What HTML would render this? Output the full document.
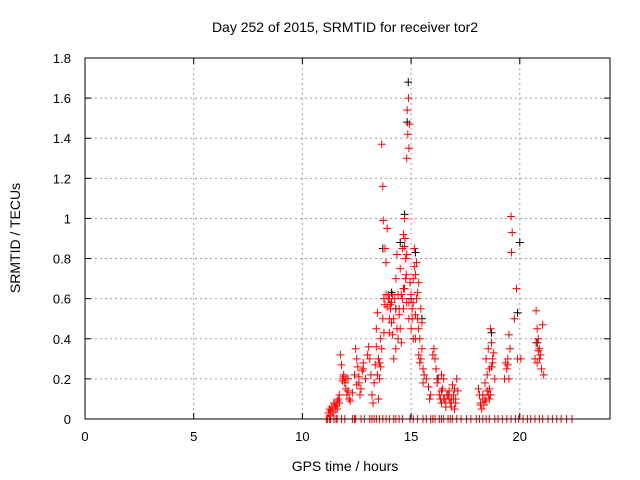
<!DOCTYPE html>
<html><head><meta charset="utf-8"><style>
html,body{margin:0;padding:0;background:#fff;}
svg{display:block;font-family:"Liberation Sans",sans-serif;}
</style></head><body>
<svg id="chart" width="640" height="480" viewBox="0 0 640 480">
<text x="345" y="32" font-size="14" text-anchor="middle">Day 252 of 2015, SRMTID for receiver tor2</text>
<text x="345" y="471" font-size="14" text-anchor="middle">GPS time / hours</text>
<text x="20" y="238" font-size="14" text-anchor="middle" transform="rotate(-90 20 238)">SRMTID / TECUs</text>
<g id="grid"></g><g id="axes"></g><g id="marks"></g>
<rect x="85" y="58" width="525" height="361" fill="none" stroke="#000" stroke-width="1"/>
</svg>
<script>
const xTicks=[0,5,10,15,20];
const yTicks=[0,0.2,0.4,0.6,0.8,1,1.2,1.4,1.6,1.8];
const yTickLabels=["0","0.2","0.4","0.6","0.8","1","1.2","1.4","1.6","1.8"];
const redT=[11.2,11.25,11.3,11.35,11.4,11.45,11.5,11.55,11.6,11.65,11.7,11.75,11.8,11.85,11.9,11.95,12.0,12.05,12.1,12.15,12.2,12.3,12.4,12.45,12.5,12.55,12.6,12.65,12.7,12.75,12.8,12.9,13.0,13.05,13.1,13.15,13.2,13.25,13.3,13.35,13.4,13.45,13.5,13.55,13.6,13.65,13.7,13.72,13.75,13.8,13.85,13.9,13.95,14.0,14.05,14.1,14.15,14.2,14.25,14.3,14.35,14.4,14.45,14.5,14.55,14.6,14.65,14.7,14.72,14.75,14.78,14.8,14.82,14.85,14.88,14.9,14.92,14.95,15.0,15.05,15.1,15.15,15.2,15.25,15.3,15.35,15.4,15.45,15.5,15.55,15.6,15.7,15.8,15.85,15.9,16.0,16.05,16.1,16.15,16.2,16.3,16.35,16.4,16.45,16.5,16.55,16.6,16.7,16.75,16.8,16.85,16.9,16.95,17.0,17.05,17.1,17.15,18.1,18.15,18.2,18.25,18.3,18.35,18.4,18.45,18.5,18.55,18.6,18.65,18.7,18.75,18.8,18.85,19.3,19.35,19.4,19.45,19.5,19.55,19.6,19.62,19.65,19.75,19.85,19.9,20.05,20.7,20.75,20.8,20.85,20.9,20.95,21.0,21.05,21.1,20.8,13.8,14.0,14.3,15.25,15.35,14.5,14.15,13.5,16.4,17.0,18.6,14.6,14.65,14.7,14.8,14.9,15.0,15.1,15.2,15.3,14.4,14.1,13.9,14.0,14.8,14.7,15.1,15.15,15.45,15.5,
11.3,11.4,11.5,11.6,11.7,11.85,11.9,12.0,12.1,12.5,12.6,12.8,13.4,13.45,13.55,13.6,13.65,13.7,13.75,13.85,13.95,14.05,14.2,14.35,14.45,14.55,14.65,14.75,14.9,15.05,15.2,15.35,15.4,15.55,16.25,16.4,16.5,16.6,16.65,16.75,16.85,16.95,17.05,18.2,18.3,18.4,18.45,18.5,18.55,18.6,18.65,18.7,18.75,19.45,19.5,20.75,20.85,20.9];
const redV=[0.03,0.05,0.02,0.06,0.04,0.08,0.05,0.07,0.09,0.1,0.12,0.32,0.27,0.2,0.22,0.18,0.15,0.12,0.2,0.1,0.09,0.13,0.22,0.35,0.3,0.26,0.18,0.12,0.15,0.24,0.28,0.2,0.32,0.36,0.3,0.22,0.12,0.08,0.18,0.27,0.45,0.53,0.3,0.2,0.26,1.37,1.16,0.99,0.6,0.57,0.78,0.95,0.62,0.6,0.55,0.48,0.42,0.3,0.6,0.7,0.82,0.62,0.52,0.45,0.38,0.85,0.92,1.0,0.9,0.8,0.72,1.3,1.54,1.42,1.6,1.35,1.47,0.68,0.62,0.55,0.58,0.85,0.72,0.6,0.5,0.45,0.4,0.3,0.35,0.25,0.22,0.2,0.16,0.1,0.12,0.32,0.35,0.3,0.25,0.18,0.12,0.1,0.08,0.15,0.2,0.1,0.06,0.12,0.14,0.08,0.1,0.17,0.12,0.05,0.1,0.2,0.14,0.15,0.12,0.08,0.05,0.1,0.07,0.18,0.3,0.22,0.35,0.25,0.45,0.38,0.28,0.33,0.2,0.2,0.28,0.25,0.3,0.42,0.35,1.01,0.83,0.93,0.5,0.65,0.3,0.3,0.3,0.54,0.45,0.4,0.35,0.32,0.25,0.47,0.22,0.28,0.85,0.43,0.35,0.78,0.68,0.75,0.62,0.1,0.22,0.15,0.15,0.6,0.55,0.65,0.58,0.5,0.45,0.4,0.52,0.63,0.4,0.58,0.56,0.5,0.82,0.86,0.7,0.76,0.55,0.48,
0.04,0.03,0.06,0.05,0.08,0.19,0.21,0.2,0.14,0.17,0.21,0.25,0.36,0.22,0.28,0.4,0.35,0.5,0.43,0.62,0.6,0.57,0.5,0.45,0.55,0.62,0.65,0.7,0.58,0.5,0.4,0.32,0.28,0.18,0.2,0.14,0.1,0.08,0.12,0.1,0.06,0.1,0.08,0.07,0.12,0.1,0.09,0.14,0.12,0.1,0.12,0.26,0.3,0.27,0.2,0.38,0.34,0.3];
const blackT=[13.7,14.1,14.5,14.7,14.82,14.87,15.2,15.5,16.2,18.7,19.9,20.0,20.8,14.3,15.0];
const blackV=[0.85,0.63,0.88,1.02,1.48,1.68,0.83,0.5,0.2,0.43,0.53,0.88,0.38,0.55,0.6];
const zeroT=[11.1,11.15,11.25,11.3,11.45,11.55,11.6,11.8,11.95,12.3,12.4,12.45,12.7,12.85,13.1,13.2,13.3,13.4,13.55,13.7,13.85,14.0,14.2,14.3,14.45,14.6,14.95,15.1,15.3,15.55,15.7,15.9,16.0,16.1,16.3,16.4,16.5,16.7,16.8,16.9,17.1,17.3,17.55,17.75,18.0,18.15,18.3,18.45,18.6,18.85,19.0,19.2,19.4,19.6,19.8,19.95,20.15,20.35,20.5,20.7,20.9,21.05,21.3,21.5,21.7,21.9,22.15,22.4];
const X=t=>85+t*(525/24.15);
const Y=v=>419-v*(361/1.8);
const NS='http://www.w3.org/2000/svg';
function mk(tag,attrs,parent){const e=document.createElementNS(NS,tag);for(const k in attrs)e.setAttribute(k,attrs[k]);parent.appendChild(e);return e;}
const grid=document.getElementById('grid'),axes=document.getElementById('axes'),marks=document.getElementById('marks');
xTicks.forEach(t=>{
  if(t>0){const g=mk('line',{x1:X(t),x2:X(t),y1:58,y2:419,stroke:'#a0a0a0','stroke-dasharray':'2,3'},grid);
  
  }
  mk('line',{x1:X(t),x2:X(t),y1:419,y2:413,stroke:'#000'},axes);
  mk('line',{x1:X(t),x2:X(t),y1:58,y2:64,stroke:'#000'},axes);
  const l=mk('text',{x:X(t),y:441,'font-size':13,'text-anchor':'middle'},axes);l.textContent=t;
  
  
});
yTicks.forEach((v,i)=>{
  if(v>0){const g=mk('line',{x1:85,x2:610,y1:Y(v),y2:Y(v),stroke:'#a0a0a0','stroke-dasharray':'2,3'},grid);
  
  }
  mk('line',{x1:85,x2:91,y1:Y(v),y2:Y(v),stroke:'#000'},axes);
  mk('line',{x1:610,x2:604,y1:Y(v),y2:Y(v),stroke:'#000'},axes);
  const l=mk('text',{x:71,y:Y(v)+5,'font-size':13,'text-anchor':'end'},axes);l.textContent=yTickLabels[i];
  
  
});
function plus(t,v,c,name){const x=X(t),y=Y(v);
  const p=mk('path',{d:`M${x-4},${y}H${x+4}M${x},${y-4}V${y+4}`,stroke:c,'stroke-width':1,fill:'none'},marks);
  
  }
zeroT.forEach(t=>plus(t,0,'#ff0000','zero-point'));
blackT.forEach((t,i)=>plus(t,blackV[i],'#000000','black-point'));
redT.forEach((t,i)=>plus(t,redV[i],'#ff0000','red-point'));
</script>
</body></html>
